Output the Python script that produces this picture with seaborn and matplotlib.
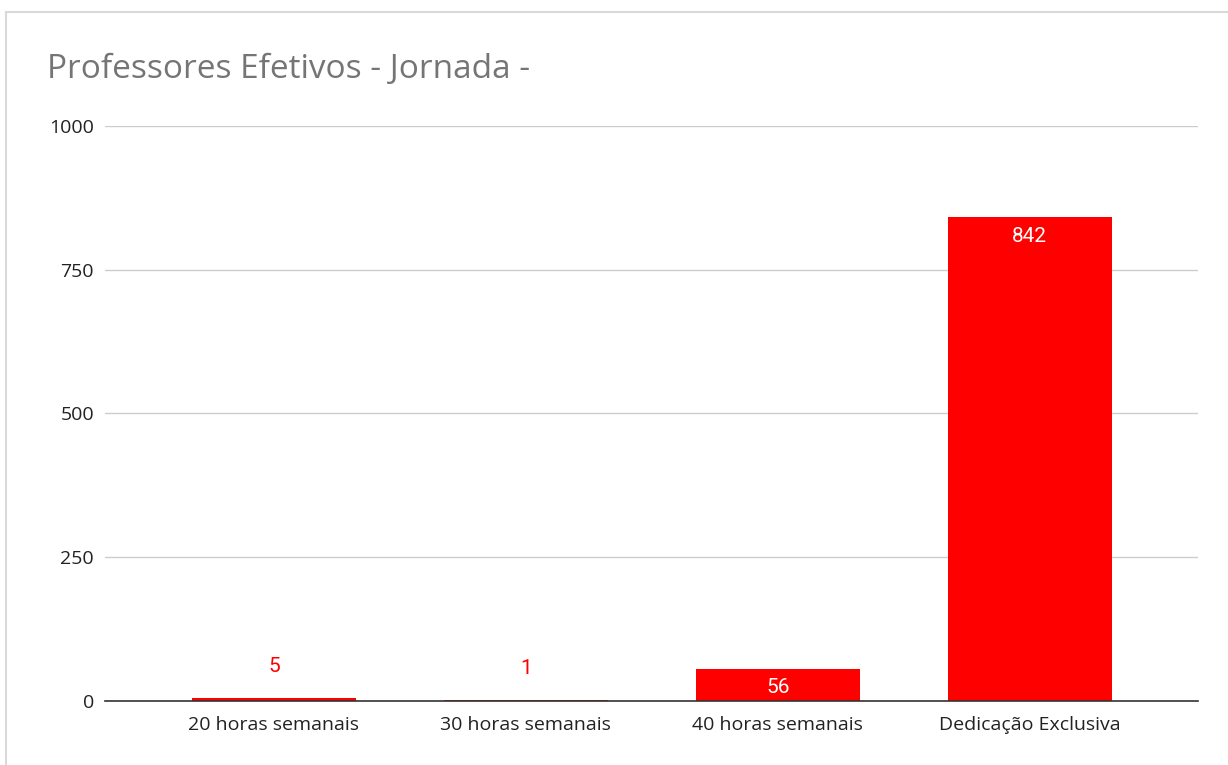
import matplotlib
matplotlib.use("Agg")
import matplotlib.pyplot as plt
import seaborn as sns
import pandas as pd
from matplotlib.patches import Rectangle

# Data
categorias = ["20 horas semanais", "30 horas semanais", "40 horas semanais", "Dedicação Exclusiva"]
professores = [5, 1, 56, 842]
y_ticks = [0, 250, 500, 750, 1000]

df = pd.DataFrame({"Jornada": categorias, "Professores": professores})

sns.set_style("white")
plt.rcParams["font.family"] = ["Open Sans", "DejaVu Sans"]

fig = plt.figure(figsize=(12.28, 7.65), dpi=100)
ax = fig.add_axes([0.0855, 0.0837, 0.89, 0.7516])

sns.barplot(data=df, x="Jornada", y="Professores", color="#ff0000",
            saturation=1, width=0.65, linewidth=0, ax=ax)

ax.set_ylim(0, 1000)
ax.set_xlim(-0.67, 3.667)
ax.set_yticks(y_ticks)
ax.set_yticklabels([str(t) for t in y_ticks], fontsize=14, color="#222222")
ax.set_xticks(range(len(categorias)))
ax.set_xticklabels(categorias, fontsize=14, color="#222222")
ax.tick_params(axis="y", length=0, pad=8)
ax.tick_params(axis="x", length=0, pad=11)
ax.set_xlabel("")
ax.set_ylabel("")

ax.grid(axis="y", color="#cccccc", linewidth=1)
ax.set_axisbelow(True)
for s in ["top", "right", "left"]:
    ax.spines[s].set_visible(False)
ax.spines["bottom"].set_color("#333333")
ax.spines["bottom"].set_linewidth(1.2)
ax.spines["bottom"].set_zorder(5)

# value labels
for i, v in enumerate(professores):
    if v > 40:
        ax.annotate(str(v), (i, v), xytext=(0, -7), textcoords="offset points",
                    ha="center", va="top", color="white", fontsize=15,
                    family="Roboto")
    else:
        ax.annotate(str(v), (i, v), xytext=(0, 19), textcoords="offset points",
                    ha="center", va="baseline", color="#ff0000", fontsize=15,
                    family="Roboto")

fig.text(47 / 1228, 1 - 70 / 765, "Professores Efetivos - Jornada -",
         fontsize=24, color="#757575", ha="left", va="center")

# outer border (cropped at right/bottom)
fig.patches.append(Rectangle((6 / 1228, -0.1), 1.2, 1 - 12 / 765 + 0.1,
                             transform=fig.transFigure, fill=False,
                             edgecolor="#d9d9d9", linewidth=1.5))

fig.savefig("out.png", dpi=100, facecolor="white")
